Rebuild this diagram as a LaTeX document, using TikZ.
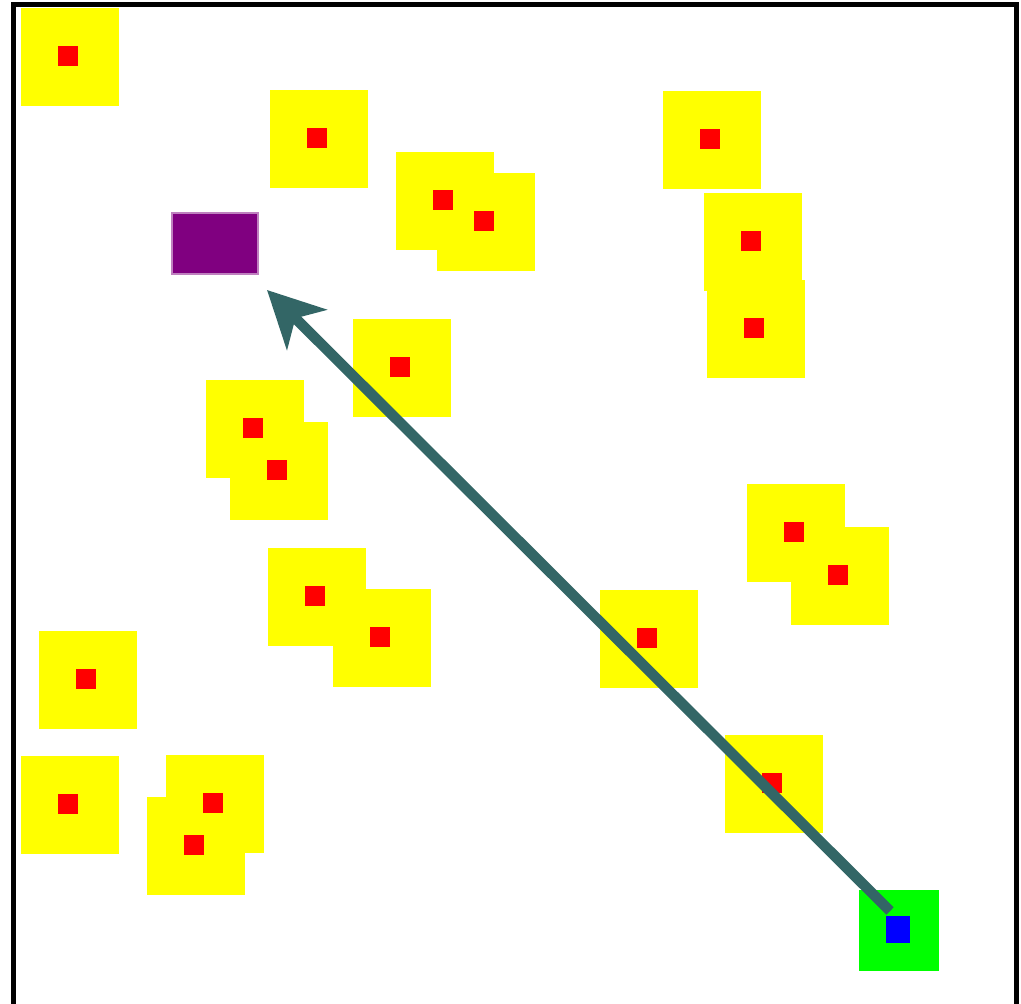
\documentclass[tikz,border=0pt]{standalone}
\usepackage{tikz}
\usetikzlibrary{arrows.meta, positioning}
\definecolor{trail}{RGB}{51,102,102}
\definecolor{goalviolet}{RGB}{128,0,128}
\definecolor{obstyellow}{RGB}{255,255,0}
\definecolor{markred}{RGB}{255,0,0}
\definecolor{padgreen}{RGB}{0,255,0}
\definecolor{robotblue}{RGB}{0,0,255}
\def\blocklist{68/56, 317/138, 443/200, 484/221, 710/139, 751/241, 754/328, 400/367, 253/428, 277/470, 794/532, 838/575, 315/596, 380/637, 647/638, 86/679, 68/804, 213/803, 194/845, 772/783}

\begin{document}
\begin{tikzpicture}[
    x=0.01cm, y=-0.01cm,
    obstacle/.style={fill=obstyellow, minimum width=0.98cm, minimum height=0.97cm, inner sep=0pt},
    marker/.style={fill=markred, minimum size=0.2cm, inner sep=0pt},
    startpad/.style={fill=padgreen, minimum width=0.8cm, minimum height=0.81cm, inner sep=0pt},
    robotbox/.style={fill=robotblue, minimum width=0.24cm, minimum height=0.27cm, inner sep=0pt},
    goalbox/.style={fill=goalviolet, draw=goalviolet!50, line width=0.4pt,
        minimum width=0.86cm, minimum height=0.61cm, inner sep=0pt},
    arrow/.style={-{Stealth[length=5.6mm, width=5.6mm, inset=1.6mm]}, line width=1.05mm, draw=trail}
]
\useasboundingbox (0,0) rectangle (1021,1004);

\foreach \x/\y [count=\i] in \blocklist {\node[obstacle] (block\i) at (\x+2,\y+1) {};}
\foreach \x/\y [count=\i] in \blocklist {\node[marker] (mark\i) at (\x,\y) {};}

\node[startpad] (pad) at (899,930.5) {};
\node[robotbox] (robot) at (898,929.5) {};
\node[goalbox] (goal) at (215,243.5) {};

\coordinate (from) at (890,911);
\coordinate (to) at (267,290);
\draw[arrow] (from) -- (to);

% arena border
\draw[line width=0.05cm] (13.5,1004) -- (13.5,4.7) -- (1016,4.7) -- (1016,1004);
\end{tikzpicture}
\end{document}
